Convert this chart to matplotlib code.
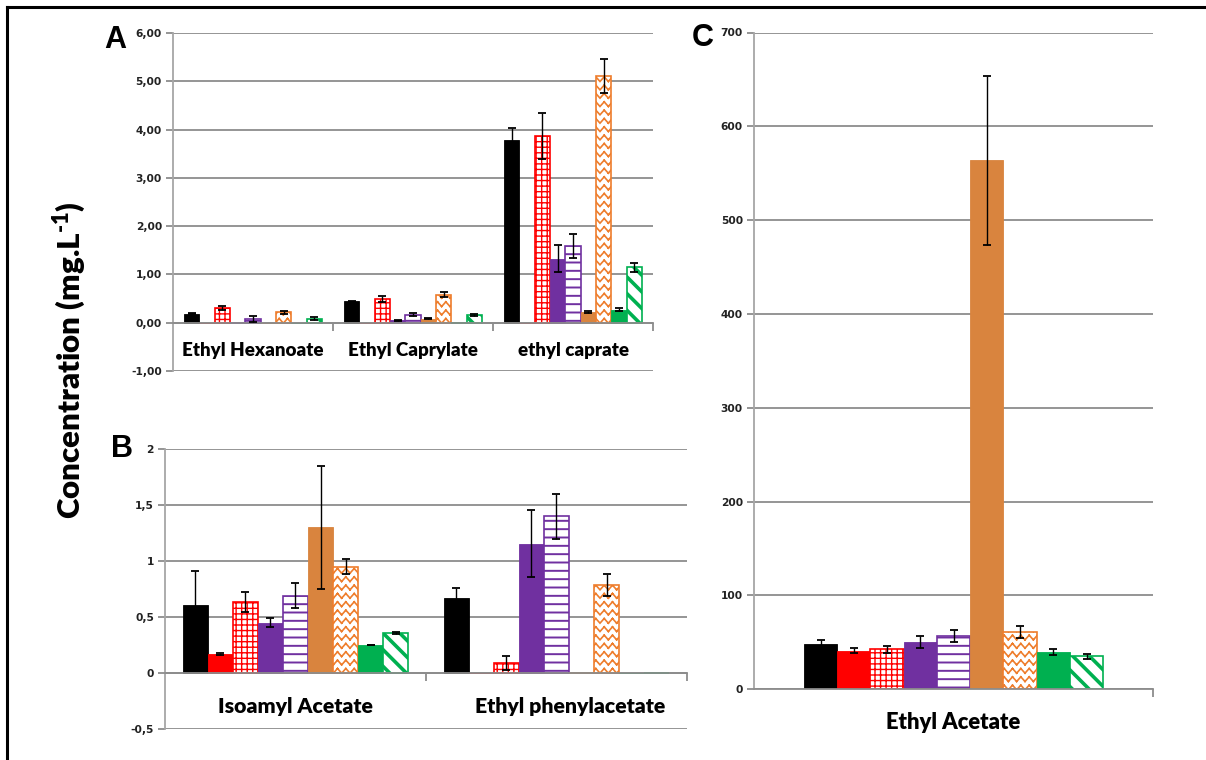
import numpy as np
import matplotlib
matplotlib.use("Agg")
import matplotlib.pyplot as plt
import matplotlib.hatch as mhatch
import matplotlib.transforms as mtrans
from matplotlib.path import Path
from matplotlib.lines import Line2D

# ---------------------------------------------------------------- data
compounds_a = ["Ethyl Hexanoate", "Ethyl Caprylate", "ethyl caprate"]
means_a = [
    [0.19, 0.00, 0.30, 0.02, 0.08, 0.00, 0.22, 0.00, 0.08],
    [0.44, 0.00, 0.49, 0.05, 0.17, 0.08, 0.58, 0.02, 0.16],
    [3.78, 0.00, 3.87, 1.32, 1.58, 0.23, 5.11, 0.27, 1.15],
]
errs_a = [
    [0.01, 0.00, 0.04, 0.00, 0.06, 0.00, 0.03, 0.00, 0.03],
    [0.02, 0.00, 0.07, 0.01, 0.04, 0.01, 0.05, 0.00, 0.03],
    [0.26, 0.00, 0.47, 0.28, 0.25, 0.02, 0.36, 0.03, 0.09],
]
yticks_a = [-1, 0, 1, 2, 3, 4, 5, 6]
yticklabels_a = ["-1,00", "0,00", "1,00", "2,00", "3,00", "4,00", "5,00", "6,00"]

compounds_b = ["Isoamyl Acetate", "Ethyl phenylacetate"]
means_b = [
    [0.605, 0.17, 0.635, 0.45, 0.69, 1.30, 0.95, 0.25, 0.36],
    [0.67, 0.00, 0.09, 1.155, 1.40, 0.005, 0.785, 0.00, 0.00],
]
errs_b = [
    [0.31, 0.005, 0.09, 0.04, 0.11, 0.55, 0.07, 0.004, 0.01],
    [0.09, 0.00, 0.06, 0.30, 0.20, 0.00, 0.10, 0.00, 0.00],
]
yticks_b = [-0.5, 0, 0.5, 1, 1.5, 2]
yticklabels_b = ["-0,5", "0", "0,5", "1", "1,5", "2"]

compounds_c = ["Ethyl Acetate"]
means_c = [[48.5, 41.0, 42.5, 50.3, 56.7, 564.0, 61.0, 40.0, 35.0]]
errs_c = [[4.5, 2.5, 4.0, 6.0, 6.5, 90.0, 6.0, 3.0, 2.5]]
yticks_c = [0, 100, 200, 300, 400, 500, 600, 700]
yticklabels_c = ["0", "100", "200", "300", "400", "500", "600", "700"]

# ---------------------------------------------------------------- zigzag hatch
class ZigZagHatch(mhatch.HatchPatternBase):
    """Rows of small chevrons, selected with the 'z' hatch character."""

    def __init__(self, hatch, density):
        self.num_rows = int(hatch.count("z") * density)
        self.num_vertices = self.num_rows * self.num_rows * 4

    def set_vertices_and_codes(self, vertices, codes):
        n = self.num_rows
        amp = 0.28 / n
        k = 0
        for r in range(n):
            y0 = (r + 0.5) / n
            for m in range(n):
                x0, x1, x2 = m / n, (m + 0.5) / n, (m + 1) / n
                vertices[k] = (x0, y0 - amp)
                vertices[k + 1] = (x1, y0 + amp)
                vertices[k + 2] = (x1, y0 + amp)
                vertices[k + 3] = (x2, y0 - amp)
                k += 4
        codes[0::2] = Path.MOVETO
        codes[1::2] = Path.LINETO


mhatch._hatch_types.append(ZigZagHatch)
mhatch._validate_hatch_pattern = lambda hatch: None

# ---------------------------------------------------------------- styles
BLACK = "#000000"
RED = "#FF0000"
PURPLE = "#7030A0"
ORANGE = "#D9843E"
ORANGE_H = "#EE7D2C"
GREEN = "#00B050"
GRID = "#8C8C8C"
TXT = "#222222"

# (face, edge, hatch, hatch linewidth)
styles = [
    (BLACK, BLACK, None, 1.0),
    (RED, RED, None, 1.0),
    ("white", RED, "+++", 1.0),
    (PURPLE, PURPLE, None, 1.0),
    ("white", PURPLE, "--", 1.4),
    (ORANGE, ORANGE, None, 1.0),
    ("white", ORANGE_H, "zz", 1.2),
    (GREEN, GREEN, None, 1.0),
    ("white", GREEN, "\\\\", 2.6),
]

LABEL_FONT = "Lato"
TICK_FONT = "DejaVu Sans"

fig = plt.figure(figsize=(12.06, 7.6), dpi=100)
W, H = 1206.0, 760.0


def px_axes(x0, y_top, x1, y_bot):
    return fig.add_axes([x0 / W, 1 - y_bot / H, (x1 - x0) / W, (y_bot - y_top) / H])


def draw_panel(ax, compounds, means, errs, yticks, yticklabels, span, pad, catsize):
    ncat = len(compounds)
    nser = len(styles)
    width = span / nser
    centers = np.arange(ncat)
    for j, (face, edge, hatch, hlw) in enumerate(styles):
        xs = centers + (j - (nser - 1) / 2) * width
        vals = [means[i][j] for i in range(ncat)]
        er = [errs[i][j] for i in range(ncat)]
        bars = ax.bar(xs, vals, width=width, color=face, edgecolor=edge,
                      linewidth=1.2 if hatch else 0.6, hatch=hatch, zorder=2)
        if hatch:
            for b in bars:
                if hasattr(b, "set_hatch_linewidth"):
                    b.set_hatch_linewidth(hlw)
        for x, v, e in zip(xs, vals, er):
            if e > 0:
                ax.errorbar(x, v, yerr=e, fmt="none", ecolor="black",
                            elinewidth=1.0, capsize=3.2, capthick=1.3, zorder=3)

    ax.set_xlim(-0.5, ncat - 0.5)
    ax.set_ylim(yticks[0], yticks[-1])
    ax.set_yticks(yticks)
    ax.set_yticklabels(yticklabels)
    ax.yaxis.grid(True, color=GRID, linewidth=1.3)
    ax.set_axisbelow(True)
    for s in ("top", "right"):
        ax.spines[s].set_visible(False)
    ax.spines["left"].set_color("#A6A6A6")
    ax.spines["left"].set_linewidth(1.3)
    ax.spines["bottom"].set_position(("data", 0))
    ax.spines["bottom"].set_color(GRID)
    ax.spines["bottom"].set_linewidth(1.3)
    ax.tick_params(axis="y", direction="out", length=5, width=1.3, color=GRID,
                   pad=3, labelsize=7.7, labelcolor=TXT)
    for lab in ax.get_yticklabels():
        lab.set_fontfamily(TICK_FONT)
        lab.set_fontweight("bold")
    ax.set_xticks(centers)
    ax.set_xticklabels(compounds, fontfamily=LABEL_FONT, fontweight="heavy",
                       fontsize=catsize, color="black")
    ax.tick_params(axis="x", which="major", length=0, pad=pad)
    ax.set_xticks(np.arange(ncat) + 0.5, minor=True)
    ax.tick_params(axis="x", which="minor", direction="out", length=6,
                   width=1.3, color=GRID)


ax_a = px_axes(173, 33, 653, 371)
draw_panel(ax_a, compounds_a, means_a, errs_a, yticks_a, yticklabels_a, 0.86, 14, 13.5)

ax_b = px_axes(165, 449, 687, 729)
draw_panel(ax_b, compounds_b, means_b, errs_b, yticks_b, yticklabels_b, 0.865, 17, 15.3)
# the second group's label sits a little right of the group centre
shift = mtrans.ScaledTranslation(14 / 100, 0, fig.dpi_scale_trans)
lab_b2 = ax_b.get_xticklabels()[1]
lab_b2.set_transform(lab_b2.get_transform() + shift)

ax_c = px_axes(754, 32.5, 1153, 689.3)
draw_panel(ax_c, compounds_c, means_c, errs_c, yticks_c, yticklabels_c, 0.75, 16, 15.8)

# panel letters
for letter, (x, y) in {"A": (115, 40), "B": (122, 449), "C": (703, 38)}.items():
    fig.text(x / W, 1 - y / H, letter, fontsize=22, fontweight="bold",
             family="Liberation Sans", ha="center", va="center")

# shared y label
plt.rcParams["mathtext.fontset"] = "custom"
plt.rcParams["mathtext.bf"] = "Lato:heavy"
plt.rcParams["mathtext.rm"] = "Lato:heavy"
fig.text(70 / W, 1 - 360 / H, r"Concentration (mg.L$^{\mathbf{\text{-1}}}$)",
         rotation=90, fontsize=22.5, fontweight="heavy", family=LABEL_FONT,
         ha="center", va="center")

# figure frame (left and top edges)
fig.add_artist(Line2D([7 / W, 7 / W], [0, 1 - 7 / H], color="black", lw=2.2,
                      transform=fig.transFigure))
fig.add_artist(Line2D([7 / W, 1], [1 - 7 / H, 1 - 7 / H], color="black", lw=2.2,
                      transform=fig.transFigure))

fig.savefig("out.png", dpi=100)
